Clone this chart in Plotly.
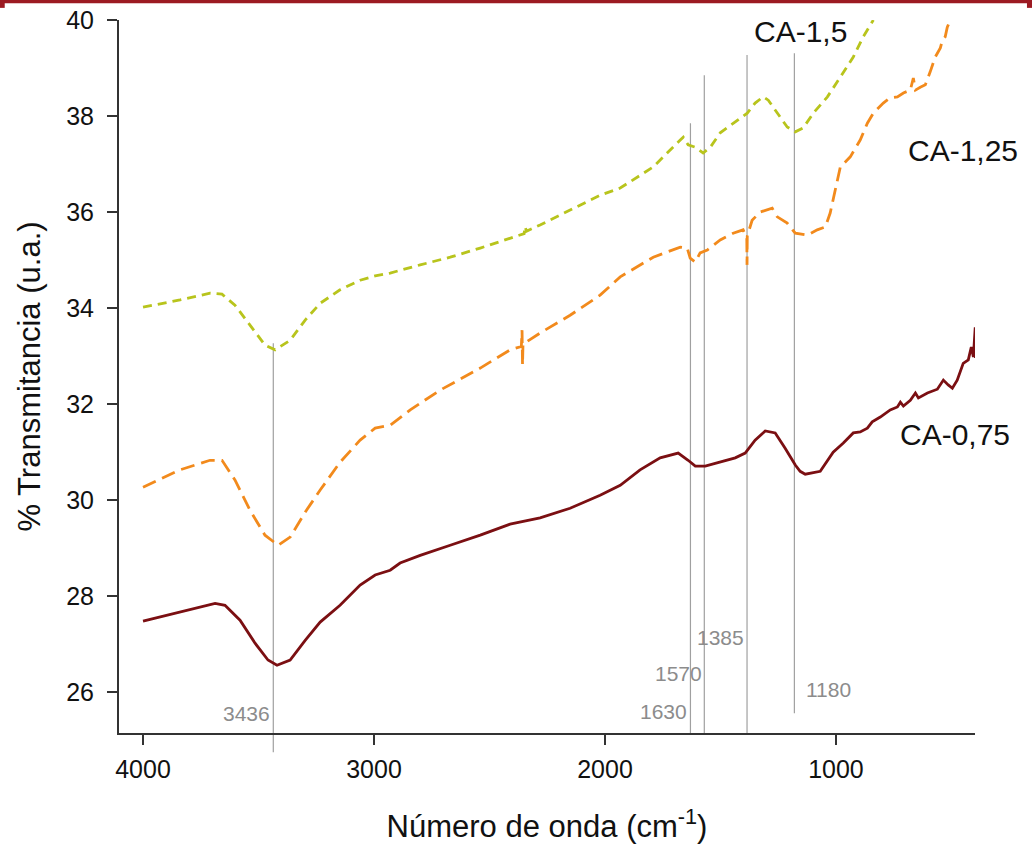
import plotly.graph_objects as go

# ---- data ----
wn_075 = [4000, 3753, 3688, 3645, 3580, 3515, 3459, 3420, 3363, 3298, 3233, 3147, 3060, 2995, 2930, 2887,
          2800, 2670, 2540, 2411, 2281, 2151, 2021, 1934, 1848, 1761, 1683, 1640, 1609, 1566, 1501, 1436,
          1393, 1350, 1306, 1263, 1220, 1176, 1155, 1133, 1068, 1012, 968, 925, 895, 864, 843, 808, 765,
          734, 721, 708, 678, 656, 643, 604, 561, 535, 514, 496, 475, 449, 427, 414, 405, 397, 396]
t_075 = [27.48, 27.77, 27.85, 27.81, 27.5, 27.02, 26.67, 26.56, 26.67, 27.08, 27.46, 27.81, 28.23, 28.44,
         28.54, 28.69, 28.85, 29.06, 29.27, 29.5, 29.63, 29.83, 30.1, 30.31, 30.63, 30.88, 30.98, 30.83,
         30.71, 30.71, 30.79, 30.88, 30.98, 31.25, 31.44, 31.4, 31.08, 30.73, 30.6, 30.54, 30.6, 31.0,
         31.19, 31.4, 31.42, 31.5, 31.63, 31.73, 31.88, 31.94, 32.04, 31.96, 32.08, 32.23, 32.13, 32.23,
         32.31, 32.5, 32.4, 32.33, 32.5, 32.85, 32.92, 33.19, 32.98, 33.6, 32.96]

wn_125 = [4000, 3840, 3710, 3658, 3602, 3537, 3472, 3415, 3363, 3298, 3233, 3147, 3060, 2995, 2930, 2843,
          2714, 2540, 2411, 2362, 2359, 2357, 2355, 2281, 2151, 2021, 1934, 1791, 1674, 1644, 1631, 1609,
          1588, 1557, 1501, 1445, 1402, 1386, 1385, 1384, 1363, 1328, 1276, 1254, 1211, 1176, 1124, 1081,
          1046, 1025, 981, 938, 895, 864, 838, 795, 765, 734, 708, 678, 665, 656, 635, 613, 592, 570, 548,
          539, 527, 518, 505]
t_125 = [30.27, 30.63, 30.83, 30.83, 30.42, 29.79, 29.27, 29.06, 29.23, 29.75, 30.21, 30.79, 31.25, 31.5,
         31.56, 31.88, 32.29, 32.75, 33.13, 33.2, 33.54, 32.81, 33.25, 33.48, 33.85, 34.27, 34.65, 35.06,
         35.27, 35.25, 35.04, 34.96, 35.15, 35.21, 35.42, 35.56, 35.63, 35.46, 34.9, 35.5, 35.83, 36.0,
         36.08, 35.9, 35.77, 35.56, 35.52, 35.63, 35.69, 35.98, 36.94, 37.15, 37.5, 37.85, 38.06, 38.27,
         38.38, 38.4, 38.48, 38.54, 38.79, 38.54, 38.6, 38.65, 38.92, 39.23, 39.42, 39.58, 39.65, 39.85,
         40.0]

wn_15 = [4000, 3840, 3710, 3658, 3602, 3537, 3472, 3428, 3363, 3298, 3233, 3147, 3060, 2995, 2930, 2800,
         2670, 2540, 2411, 2350, 2346, 2340, 2281, 2151, 2021, 1934, 1791, 1674, 1661, 1640, 1609, 1575,
         1544, 1501, 1445, 1384, 1350, 1315, 1293, 1254, 1211, 1176, 1142, 1098, 1037, 981, 925, 882, 838]
t_15 = [34.02, 34.17, 34.31, 34.29, 34.06, 33.65, 33.23, 33.13, 33.33, 33.75, 34.1, 34.38, 34.58, 34.67,
        34.73, 34.9, 35.06, 35.25, 35.46, 35.55, 35.7, 35.6, 35.73, 36.04, 36.35, 36.5, 36.94, 37.5, 37.56,
        37.4, 37.35, 37.23, 37.35, 37.65, 37.85, 38.06, 38.27, 38.4, 38.33, 38.06, 37.77, 37.67, 37.75,
        38.06, 38.4, 38.81, 39.23, 39.65, 40.0]

series_names = ["CA-0,75", "CA-1,25", "CA-1,5"]
series_colors = ["#7b0f12", "#f28a1c", "#b8c41c"]

peak_wn = [3436, 1630, 1570, 1385, 1180]
peak_top = [33.27, 37.85, 38.85, 39.27, 39.31]
peak_labels = ["3436", "1630", "1570", "1385", "1180"]

x_ticks = [4000, 3000, 2000, 1000]
y_ticks = [26, 28, 30, 32, 34, 36, 38, 40]

FONT = "Liberation Sans, Arial, sans-serif"
Y0, Y1 = 25.15, 40.0

fig = go.Figure()
fig.add_trace(go.Scatter(x=wn_075, y=t_075, mode="lines", name=series_names[0],
                         line=dict(color=series_colors[0], width=2.8)))
fig.add_trace(go.Scatter(x=wn_125, y=t_125, mode="lines", name=series_names[1],
                         line=dict(color=series_colors[1], width=2.8, dash="14px,7px")))
fig.add_trace(go.Scatter(x=wn_15, y=t_15, mode="lines", name=series_names[2],
                         line=dict(color=series_colors[2], width=2.8, dash="9px,6px")))

shapes = []
# peak reference lines
bottoms = [None, Y0, Y0, Y0, 25.56]
for w, top, b in zip(peak_wn, peak_top, bottoms):
    if b is None:
        shapes.append(dict(type="line", xref="x", yref="paper", x0=w, x1=w,
                           y0=-0.027, y1=(top - Y0) / (Y1 - Y0),
                           line=dict(color="#a0a0a0", width=1.2), layer="below"))
    else:
        shapes.append(dict(type="line", xref="x", yref="y", x0=w, x1=w, y0=b, y1=top,
                           line=dict(color="#a0a0a0", width=1.2), layer="below"))

# decorative red band on top of page
shapes.append(dict(type="rect", xref="paper", yref="paper", x0=-0.14, x1=1.07, y0=1.0235, y1=1.05,
                   fillcolor="#9c1a22", line=dict(width=0)))
shapes.append(dict(type="rect", xref="paper", yref="paper", x0=-0.14, x1=-0.1335, y0=1.017, y1=1.05,
                   fillcolor="#9c1a22", line=dict(width=0)))
shapes.append(dict(type="rect", xref="paper", yref="paper", x0=1.0607, x1=1.07, y0=1.017, y1=1.05,
                   fillcolor="#9c1a22", line=dict(width=0)))

annotations = []
peak_lab_pos = [(3554, 25.55), (1748, 25.6), (1683, 26.39), (1501, 27.14), (1033, 26.05)]
for lab, (px, py) in zip(peak_labels, peak_lab_pos):
    annotations.append(dict(x=px, y=py, text=lab, showarrow=False, xref="x", yref="y",
                            font=dict(family=FONT, size=21, color="#8c8c8c")))

name_pos = [(483, 31.36), (449, 37.29), (1155, 39.77)]
for nm, (px, py) in zip(series_names, name_pos):
    annotations.append(dict(x=px, y=py, text=nm, showarrow=False, xref="x", yref="y",
                            font=dict(family=FONT, size=30, color="#111111")))

fig.update_layout(
    width=1032, height=848,
    margin=dict(l=119, r=57, t=20, b=115),
    paper_bgcolor="white", plot_bgcolor="white",
    showlegend=False,
    font=dict(family=FONT, color="#111111"),
    shapes=shapes, annotations=annotations,
    xaxis=dict(range=[4104, 398], tickvals=x_ticks, ticktext=[str(v) for v in x_ticks],
               automargin=False,
               showgrid=False, zeroline=False, showline=True, linecolor="#333333", linewidth=2,
               ticks="outside", ticklen=10, tickwidth=2, tickcolor="#333333", ticklabelstandoff=3,
               tickfont=dict(family=FONT, size=25, color="#111111"),
               title=dict(text="Número de onda (cm<sup>-1</sup>)", standoff=33,
                          font=dict(family=FONT, size=31, color="#111111"))),
    yaxis=dict(range=[Y0, Y1], tickvals=y_ticks, ticktext=[str(v) for v in y_ticks],
               automargin=False,
               showgrid=False, zeroline=False, showline=True, linecolor="#333333", linewidth=2,
               ticks="outside", ticklen=10, tickwidth=2, tickcolor="#333333", ticklabelstandoff=8,
               tickfont=dict(family=FONT, size=25, color="#111111"),
               title=dict(text="% Transmitancia (u.a.)", standoff=16,
                          font=dict(family=FONT, size=31, color="#111111"))),
)

fig.write_html("out.html")
